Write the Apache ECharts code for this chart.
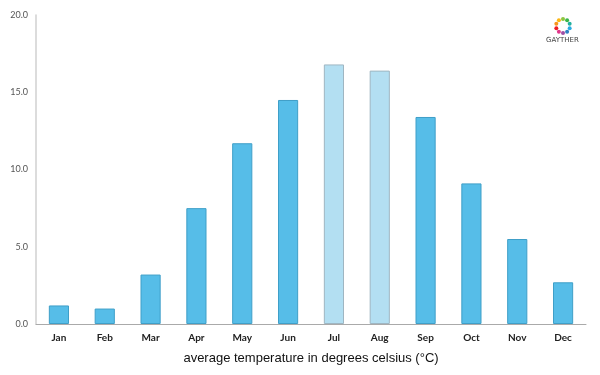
<!DOCTYPE html>
<html>
<head>
<meta charset="utf-8">
<script src="https://cdn.jsdelivr.net/npm/echarts@6/dist/echarts.min.js"></script>
<style>
    html, body { margin: 0; padding: 0; background: #fff; }
    #barChart { width: 600px; height: 375px; }
</style>
</head>
<body>
<div id="barChart"></div>
<script>
var months = ['Jan', 'Feb', 'Mar', 'Apr', 'May', 'Jun', 'Jul', 'Aug', 'Sep', 'Oct', 'Nov', 'Dec'];
var temps = [1.2, 1.0, 3.2, 7.5, 11.7, 14.5, 16.8, 16.4, 13.4, 9.1, 5.5, 2.7];
var highlight = ['Jul', 'Aug'];
var logoColors = ['#8cc63f', '#39b54a', '#22b0a0', '#29abe2', '#2e80c4', '#9e4fa5', '#e2368b', '#ed1c24', '#f7941d', '#fcb614'];

// 柱形图表
var myBarChart = function () {
    var chart = echarts.init(document.getElementById('barChart'));

    var barData = [];
    months.forEach(function (m, i) {
        var light = highlight.indexOf(m) >= 0;
        barData.push({
            value: temps[i],
            itemStyle: light ? {
                color: '#b3dff2',
                borderColor: '#9fb6c2',
                borderWidth: 1
            } : {
                color: '#56bde8',
                borderColor: '#3f9fc8',
                borderWidth: 1
            }
        });
    });

    // logo, ring of dots
    var logo = [];
    logoColors.forEach(function (c, i) {
        var a = i / logoColors.length * Math.PI * 2 - Math.PI / 2;
        logo.push({
            type: 'circle',
            shape: { cx: 563 + Math.cos(a) * 7, cy: 26 + Math.sin(a) * 7, r: 2 },
            style: { fill: c }
        });
    });
    logo.push({
        type: 'text',
        left: 546,
        top: 37,
        style: { text: 'GAYTHER', fill: '#444', font: '7px "DejaVu Sans"' }
    });

    var option = {
        animation: false,
        grid: { left: 36, right: 14, top: 15, bottom: 51 },
        xAxis: {
            type: 'category',
            data: months,
            name: 'average temperature in degrees celsius (°C)',
            nameLocation: 'middle',
            nameGap: 28,
            nameTextStyle: { color: '#111', fontSize: 13, fontFamily: 'Liberation Sans' },
            axisLine: { lineStyle: { color: '#aaa', width: 1 } },
            axisTick: { show: false },
            axisLabel: { color: '#222', fontSize: 10, fontWeight: 'bold', fontFamily: 'Lato', margin: 9 }
        },
        yAxis: {
            type: 'value',
            min: 0,
            max: 20,
            interval: 5,
            axisLine: { show: true, lineStyle: { color: '#d0d0d0', width: 1.5 } },
            axisTick: { show: false },
            splitLine: { show: false },
            axisLabel: {
                color: '#555', fontSize: 9, fontFamily: 'Lato', margin: 8,
                formatter: function (v) { return v.toFixed(1); }
            }
        },
        series: [{
            type: 'bar',
            barWidth: '44%',
            data: barData
        }],
        graphic: logo
    };
    chart.setOption(option);
};

myBarChart();
</script>
</body>
</html>
